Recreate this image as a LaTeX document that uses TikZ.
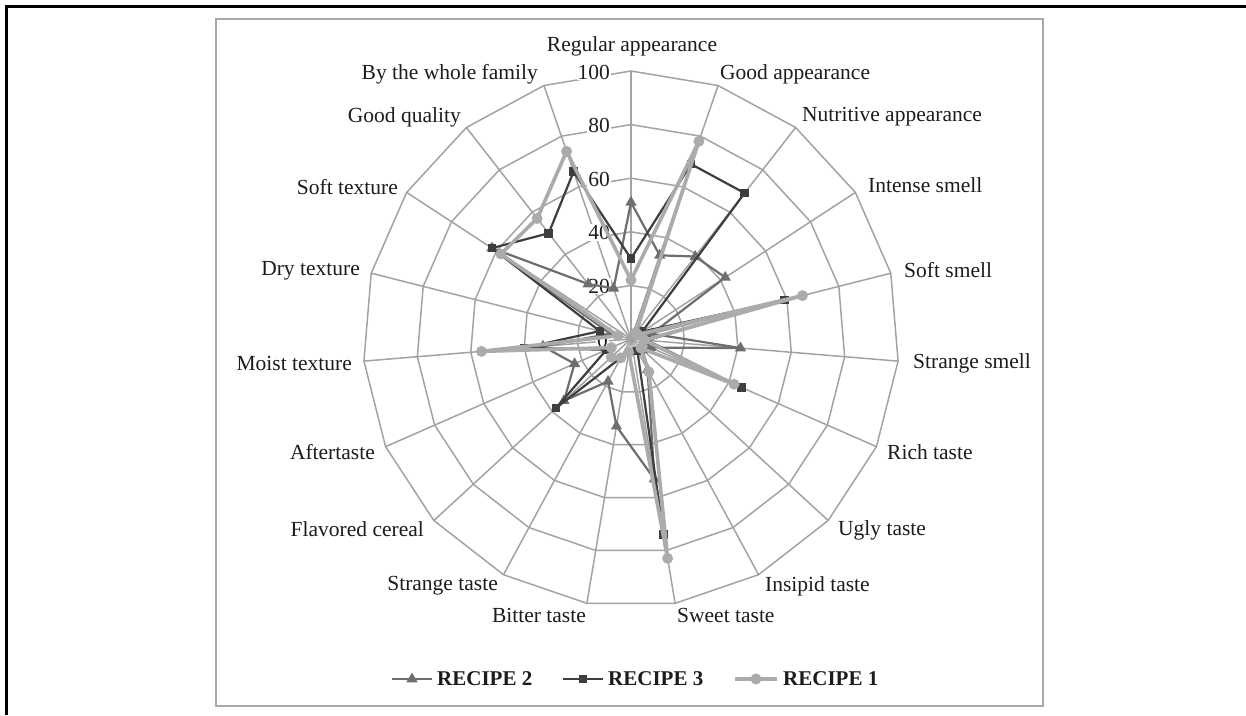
\documentclass[tikz,border=0pt]{standalone}
\usepackage{fontspec}
\setmainfont{Liberation Serif}
\usetikzlibrary{shapes.geometric}
\definecolor{gridc}{HTML}{A3A3A3}
\definecolor{boxc}{HTML}{A8A8A8}
\definecolor{rone}{HTML}{ABABAB}
\definecolor{rtwo}{HTML}{6E6E6E}
\definecolor{rthree}{HTML}{3E3E3E}
\definecolor{txt}{HTML}{1C1C1C}
\begin{document}
\begin{tikzpicture}[x=1pt,y=1pt,
  lbl/.style={font=\fontsize{21.5}{24}\selectfont, text=txt, inner sep=0pt},
  tick/.style={font=\fontsize{21.5}{24}\selectfont, text=txt, inner sep=1pt, fill=white, anchor=east},
  leg/.style={font=\bfseries\fontsize{21}{24}\selectfont, text=txt, inner sep=0pt, anchor=west},
  gridline/.style={draw=gridc, line width=1.5pt},
  lineone/.style={draw=rone, line width=3.6pt, line join=round},
  linetwo/.style={draw=rtwo, line width=2.2pt, line join=round},
  linethree/.style={draw=rthree, line width=2.2pt, line join=round},
  markone/.style={circle, fill=rone, inner sep=0pt, minimum size=11pt},
  marktwo/.style={regular polygon, regular polygon sides=3, fill=rtwo, inner sep=0pt, minimum size=13pt},
  markthree/.style={rectangle, fill=rthree, inner sep=0pt, minimum size=8.5pt}]
\useasboundingbox (0,0) rectangle (1246,715);
\fill[white] (0,0) rectangle (1246,715);
% outer frame
\draw[black, line width=2.4pt] (6.5,0) -- (6.5,708.3) -- (1246,708.3);
% chart box
\draw[boxc, line width=2.5pt] (216,9) rectangle (1043,696);

\begin{scope}[shift={(631,376)}]
  % spokes
  \foreach \i in {0,...,18}{
    \pgfmathsetmacro\ang{90-\i*360/19}
    \draw[gridline] (0,0) -- (\ang:268);
  }
  % rings
  \foreach \k in {1,...,5}{
    \pgfmathsetmacro\rr{\k*53.6}
    \draw[gridline] (90:\rr) \foreach \i in {1,...,18}{ -- ({90-\i*360/19}:\rr) } -- cycle;
  }
\end{scope}

% axis value labels
\node[tick] (t100) at (611,643) {100};
\node[tick] (t80) at (611,589.5) {80};
\node[tick] (t60) at (611,536) {60};
\node[tick] (t40) at (611,482.5) {40};
\node[tick] (t20) at (611,429) {20};
\node[tick] (t0) at (609,375) {0};

\begin{scope}[shift={(631,376)}]
  % data coordinates
  \foreach \v [count=\i from 0] in {22,78,3,3,66,5,42,5,14,83,5,8,10,8,56,5,58,57,74}{
    \pgfmathsetmacro\ang{90-\i*360/19}
    \pgfmathsetmacro\rad{\v*2.68}
    \coordinate (a\i) at (\ang:\rad);
  }
  \foreach \v [count=\i from 0] in {51,33,39,42,8,41,8,6,13,53,33,18,34,23,33,8,62,26,20}{
    \pgfmathsetmacro\ang{90-\i*360/19}
    \pgfmathsetmacro\rad{\v*2.68}
    \coordinate (b\i) at (\ang:\rad);
  }
  \foreach \v [count=\i from 0] in {30,69,69,5,59,6,45,5,5,74,5,8,38,10,40,12,62,50,66}{
    \pgfmathsetmacro\ang{90-\i*360/19}
    \pgfmathsetmacro\rad{\v*2.68}
    \coordinate (c\i) at (\ang:\rad);
  }
  % series
  \draw[linetwo] (b0) \foreach \i in {1,...,18}{ -- (b\i) } -- cycle;
  \foreach \i in {0,...,18}{ \node[marktwo] (mb\i) at (b\i) {}; }
  \draw[linethree] (c0) \foreach \i in {1,...,18}{ -- (c\i) } -- cycle;
  \foreach \i in {0,...,18}{ \node[markthree] (mc\i) at (c\i) {}; }
  \draw[lineone] (a0) \foreach \i in {1,...,18}{ -- (a\i) } -- cycle;
  \foreach \i in {0,...,18}{ \node[markone] (ma\i) at (a\i) {}; }
\end{scope}

% category labels
\node[lbl, anchor=center] (l0) at (632,669) {Regular appearance};
\node[lbl, anchor=west] (l1) at (720,641) {Good appearance};
\node[lbl, anchor=west] (l2) at (802,598) {Nutritive appearance};
\node[lbl, anchor=west] (l3) at (868,530) {Intense smell};
\node[lbl, anchor=west] (l4) at (904,445) {Soft smell};
\node[lbl, anchor=west] (l5) at (913,352) {Strange smell};
\node[lbl, anchor=west] (l6) at (887,263) {Rich taste};
\node[lbl, anchor=west] (l7) at (838,185) {Ugly taste};
\node[lbl, anchor=west] (l8) at (765,129) {Insipid taste};
\node[lbl, anchor=west] (l9) at (677,100) {Sweet taste};
\node[lbl, anchor=east] (l10) at (586,100) {Bitter taste};
\node[lbl, anchor=east] (l11) at (498,129) {Strange taste};
\node[lbl, anchor=east] (l12) at (424,186) {Flavored cereal};
\node[lbl, anchor=east] (l13) at (375,263) {Aftertaste};
\node[lbl, anchor=east] (l14) at (352,352) {Moist texture};
\node[lbl, anchor=east] (l15) at (360,444) {Dry texture};
\node[lbl, anchor=east] (l16) at (398,528) {Soft texture};
\node[lbl, anchor=east] (l17) at (461,598) {Good quality};
\node[lbl, anchor=east] (l18) at (538,641) {By the whole family};

% legend
\coordinate (ls2a) at (392,36); \coordinate (ls2b) at (432,36);
\draw[linetwo] (ls2a) -- (ls2b);
\node[marktwo] (lm2) at (412,36) {};
\node[leg] (lt2) at (437,36) {RECIPE 2};
\coordinate (ls3a) at (563,36); \coordinate (ls3b) at (603,36);
\draw[linethree] (ls3a) -- (ls3b);
\node[markthree] (lm3) at (583,36) {};
\node[leg] (lt3) at (608,36) {RECIPE 3};
\coordinate (ls1a) at (735,36); \coordinate (ls1b) at (777,36);
\draw[lineone] (ls1a) -- (ls1b);
\node[markone] (lm1) at (756,36) {};
\node[leg] (lt1) at (783,36) {RECIPE 1};
\end{tikzpicture}
\end{document}
